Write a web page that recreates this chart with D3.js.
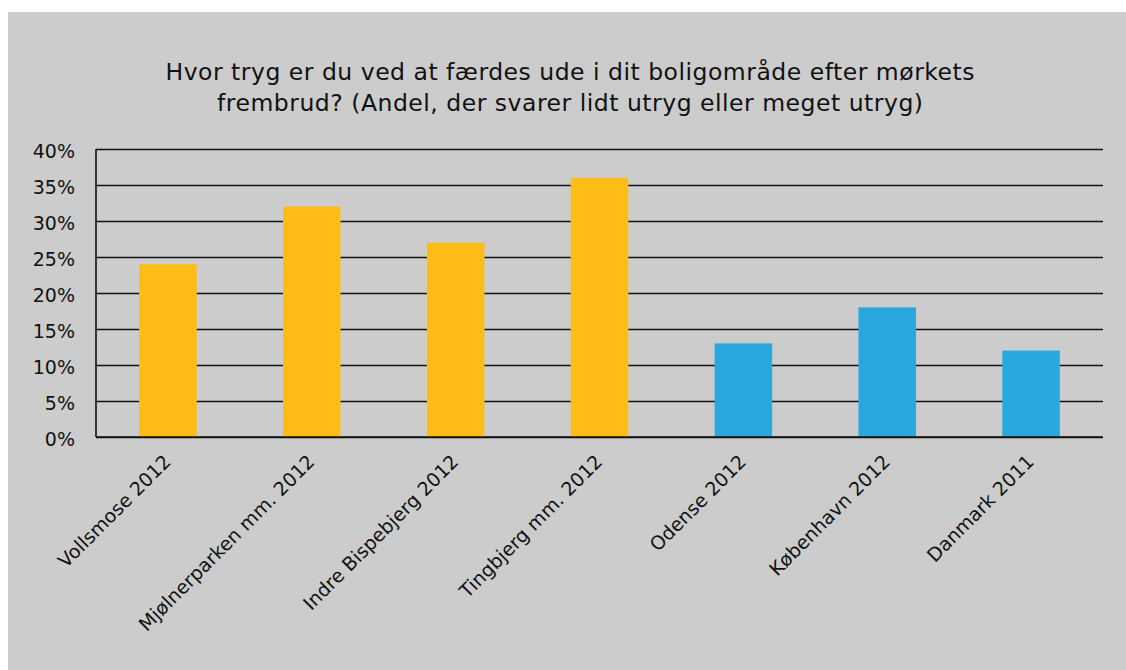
<!DOCTYPE html>
<html>
<head>
<meta charset="utf-8">
<script src="https://cdn.jsdelivr.net/npm/d3@7"></script>
<style>
  html, body { margin: 0; padding: 0; background: #fff; }
  svg { display: block; }
</style>
</head>
<body>
<div id="viz"></div>
<script>
// chart data
const categories = ["Vollsmose 2012", "Mjølnerparken mm. 2012", "Indre Bispebjerg 2012",
    "Tingbjerg mm. 2012", "Odense 2012", "København 2012", "Danmark 2011"];
const values = [0.24, 0.32, 0.27, 0.36, 0.13, 0.18, 0.12];
const groupOf = ["area", "area", "area", "area", "city", "city", "country"];
const yTicks = [0, 0.05, 0.10, 0.15, 0.20, 0.25, 0.30, 0.35, 0.40];
const titleLines = ["Hvor tryg er du ved at færdes ude i dit boligområde efter mørkets",
    "frembrud?  (Andel, der svarer lidt utryg eller meget utryg)"];
const titleWidths = [809, 706];

const outerWidth = 1126, outerHeight = 670;
const margin = {top: 149, right: 23, bottom: 233, left: 96};
const width = outerWidth - margin.left - margin.right,
    height = outerHeight - margin.top - margin.bottom;

const colors = {area: "#FDBD16", city: "#29A8E0", country: "#29A8E0"};

const svg = d3.select("#viz").append("svg")
    .attr("width", outerWidth)
    .attr("height", outerHeight);

// gray chart background
svg.append("rect")
    .attr("x", 8).attr("y", 12)
    .attr("width", outerWidth - 8).attr("height", outerHeight - 12)
    .attr("fill", "#cccccc");

// title, stretched to the reference line widths
svg.selectAll(".title")
    .data(titleLines).enter()
    .append("text")
    .attr("class", "title")
    .attr("x", (d, i) => 570 - titleWidths[i] / 2)
    .attr("y", (d, i) => 80 + i * 31)
    .attr("font-family", "DejaVu Sans")
    .attr("font-size", 23.5)
    .attr("textLength", (d, i) => titleWidths[i])
    .attr("lengthAdjust", "spacing")
    .attr("fill", "#111")
    .text(d => d);

const g = svg.append("g")
    .attr("transform", "translate(" + margin.left + "," + margin.top + ")");

const x = d3.scaleBand().domain(categories).range([0, width]).paddingInner(0.6).paddingOuter(0.3);
const y = d3.scaleLinear().domain([0, 0.4]).range([height, 0]);

// gridlines + y labels
const yAxis = g.append("g")
    .call(d3.axisLeft(y).tickValues(yTicks).tickFormat(d3.format(".0%")).tickSize(-width).tickPadding(21));
yAxis.select(".domain").remove();
yAxis.selectAll(".tick line").attr("stroke", "#111").attr("stroke-width", 1.6);
yAxis.selectAll(".tick text")
    .attr("font-family", "DejaVu Sans")
    .attr("font-size", 19)
    .attr("dy", "0.45em")
    .attr("fill", "#111");

// bars
g.selectAll(".bar")
    .data(values).enter()
    .append("rect")
    .attr("class", "bar")
    .attr("x", (d, i) => x(categories[i]))
    .attr("y", d => y(d))
    .attr("width", x.bandwidth())
    .attr("height", d => y(0) - y(d))
    .attr("fill", (d, i) => colors[groupOf[i]]);

// baseline + left axis line
g.append("line")
    .attr("x1", 0).attr("x2", width)
    .attr("y1", y(0)).attr("y2", y(0))
    .attr("stroke", "#111").attr("stroke-width", 1.6);
g.append("line")
    .attr("x1", 0).attr("x2", 0)
    .attr("y1", y(0.4)).attr("y2", y(0))
    .attr("stroke", "#111").attr("stroke-width", 1.6);

// category labels, rotated
g.selectAll(".cat")
    .data(categories).enter()
    .append("text")
    .attr("class", "cat")
    .attr("transform", d => "translate(" + (x(d) + x.bandwidth() / 2 + 4) + "," + (y(0) + 26) + ") rotate(-45)")
    .attr("text-anchor", "end")
    .attr("font-family", "DejaVu Sans")
    .attr("font-size", 19)
    .attr("fill", "#111")
    .text(d => d);
</script>
</body>
</html>
